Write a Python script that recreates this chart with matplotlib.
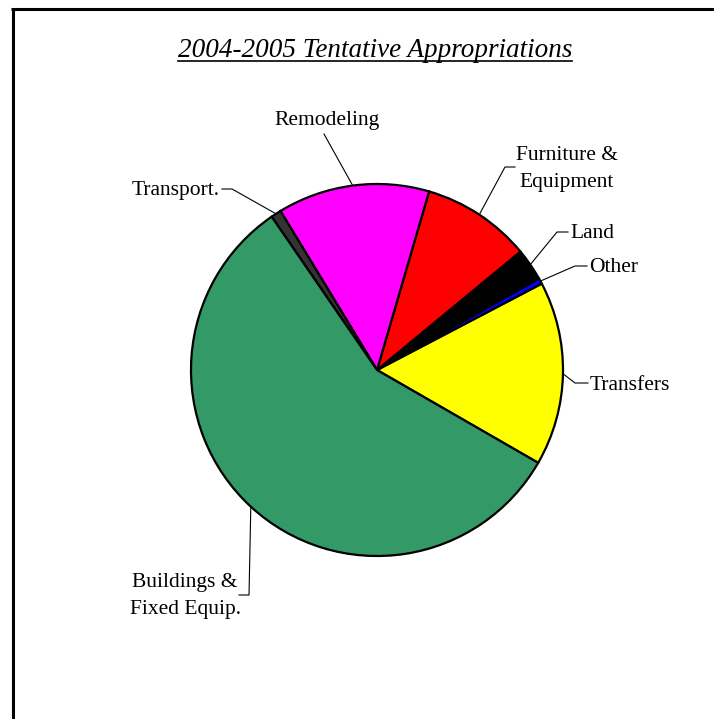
import numpy as np
import matplotlib
matplotlib.use("Agg")
import matplotlib.pyplot as plt
from matplotlib.lines import Line2D

# Budget shares (percent), counter-clockwise from the Transfers wedge
categories = ["Transfers", "Other", "Land", "Furniture &\nEquipment",
              "Remodeling", "Transport.", "Buildings &\nFixed Equip."]
shares = [16.0, 0.5, 2.8, 9.5, 13.2, 0.9, 57.1]
colors = ["#FFFF00", "#0000FF", "#000000", "#FF0000",
          "#FF00FF", "#333333", "#339966"]

W, H = 714, 719
fig = plt.figure(figsize=(W / 100, H / 100), dpi=100)
fig.patch.set_facecolor("white")
ax = fig.add_axes([0, 0, 1, 1])

def py(y):
    # convert a top-down pixel row into axes units
    return H - y

cx, cy, r = 377, py(370), 186
wedges, _ = ax.pie(shares, colors=colors, startangle=-29.94, counterclock=True,
                   center=(cx, cy), radius=r,
                   wedgeprops=dict(edgecolor="black", linewidth=1.6))
ax.set_xlim(0, W)
ax.set_ylim(0, H)
ax.set_aspect("equal")
ax.axis("off")

font = dict(family="Liberation Serif", fontsize=15.5, color="black")

# label layout: (elbow point, line end, text position, alignment)
layout = {
    "Transfers": ((575, 383), (588, 383), (590, 385), "left"),
    "Other": ((575, 266), (587, 266), (589, 268), "left"),
    "Land": ((557, 232), (568, 232), (570, 234), "left"),
    "Furniture &\nEquipment": ((505, 167), (515, 167), (567, 169), "center"),
    "Remodeling": (None, (324, 134), (327, 121), "center"),
    "Transport.": ((232, 189), (222, 189), (220, 191), "right"),
    "Buildings &\nFixed Equip.": ((249, 595), (239, 595), (185, 596), "center"),
}

for w, name in zip(wedges, categories):
    mid = np.deg2rad((w.theta1 + w.theta2) / 2)
    sx, sy = cx + r * np.cos(mid), cy + r * np.sin(mid)
    elbow, end, tpos, ha = layout[name]
    xs, ys = [sx], [sy]
    if elbow is not None:
        xs.append(elbow[0]); ys.append(py(elbow[1]))
    xs.append(end[0]); ys.append(py(end[1]))
    ax.plot(xs, ys, color="black", linewidth=0.8, zorder=5)
    ax.text(tpos[0], py(tpos[1]), name, ha=ha, va="center",
            linespacing=1.6, **font)

# underlined italic title
title = ax.text(375, py(57), "2004-2005 Tentative Appropriations",
                ha="center", va="baseline", family="Liberation Serif",
                style="italic", fontsize=19.5, color="black")
fig.canvas.draw()
bb = title.get_window_extent(renderer=fig.canvas.get_renderer())
ax.plot([bb.x0, bb.x1], [py(60.5), py(60.5)], color="black", linewidth=1.2)

# outer frame: top and left edges
fig.add_artist(Line2D([11 / W, 1.0], [1 - 9 / H, 1 - 9 / H],
                      transform=fig.transFigure, color="black", linewidth=2.2,
                      solid_capstyle="butt"))
fig.add_artist(Line2D([12.5 / W, 12.5 / W], [1 - 8 / H, 0.0],
                      transform=fig.transFigure, color="black", linewidth=2.2,
                      solid_capstyle="butt"))

fig.savefig("out.png", dpi=100, facecolor="white")
